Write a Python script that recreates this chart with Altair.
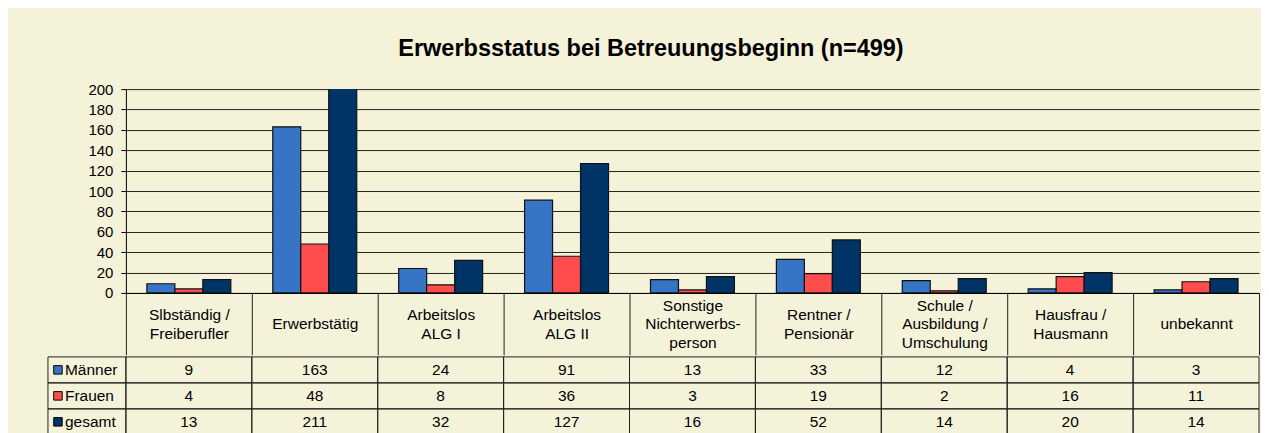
import altair as alt
import pandas as pd

FONT = "Liberation Sans"

categories = [
    "Slbständig /\nFreiberufler",
    "Erwerbstätig",
    "Arbeitslos\nALG I",
    "Arbeitslos\nALG II",
    "Sonstige\nNichterwerbs-\nperson",
    "Rentner /\nPensionär",
    "Schule /\nAusbildung /\nUmschulung",
    "Hausfrau /\nHausmann",
    "unbekannt",
]
series = ["Männer", "Frauen", "gesamt"]
maenner = [9, 163, 24, 91, 13, 33, 12, 4, 3]
frauen = [4, 48, 8, 36, 3, 19, 2, 16, 11]
gesamt = [13, 211, 32, 127, 16, 52, 14, 20, 14]
colors = ["#3674C6", "#FF4D4D", "#003366"]
y_ticks = [0, 20, 40, 60, 80, 100, 120, 140, 160, 180, 200]
title_text = "Erwerbsstatus bei Betreuungsbeginn (n=499)"

rows = []
for s, vals in zip(series, [maenner, frauen, gesamt]):
    for c, v in zip(categories, vals):
        rows.append({"category": c, "series": s, "value": v})
df = pd.DataFrame(rows)
labels_df = pd.DataFrame({"series": series})

W = 1134

# multi-line category labels, vertically centred in the 62px label row
L = "split(datum.label, '\\n')"
label_pad = {
    "condition": [
        {"test": f"length({L}) == 3", "value": -49.5},
        {"test": f"length({L}) == 2", "value": -40.25},
    ],
    "value": -31,
}

color_enc = alt.Color("series:N", sort=series,
                      scale=alt.Scale(domain=series, range=colors), legend=None)

bars = alt.Chart(df).mark_bar(clip=True, stroke="#111", strokeWidth=1.2).encode(
    x=alt.X("category:N", sort=categories,
            scale=alt.Scale(paddingInner=0, paddingOuter=0),
            axis=alt.Axis(title=None, labelExpr=L,
                          tickBand="extent", tickSize=62, tickColor="#222", tickWidth=1,
                          domainColor="#000", labelPadding=label_pad, labelBaseline="middle",
                          labelFontSize=15.5, labelLineHeight=18.5, labelColor="#000",
                          labelFont=FONT, labelAngle=0)),
    y=alt.Y("value:Q", scale=alt.Scale(domain=[0, 200], nice=False, zero=True),
            axis=alt.Axis(title=None, values=y_ticks, grid=True, gridColor="#222",
                          gridWidth=1, tickColor="#000", tickSize=5, domainColor="#000",
                          labelFontSize=15, labelPadding=8, labelFont=FONT,
                          labelColor="#000", minExtent=78, maxExtent=78)),
    xOffset=alt.XOffset("series:N", sort=series,
                        scale=alt.Scale(paddingInner=0, paddingOuter=0.75)),
    color=color_enc,
).properties(
    width=W, height=204,
    title=alt.TitleParams(title_text, fontSize=23.5, font=FONT, fontWeight="bold",
                          color="#000", anchor="middle", frame="group", dx=-41.5, offset=22),
)

table_base = alt.Chart(df).encode(
    x=alt.X("category:N", sort=categories,
            scale=alt.Scale(paddingInner=0, paddingOuter=0), axis=None),
    y=alt.Y("series:N", sort=series,
            scale=alt.Scale(paddingInner=0, paddingOuter=0), axis=None),
)
cells = table_base.mark_rect(fillOpacity=0, stroke="#222", strokeWidth=1)
texts = table_base.mark_text(fontSize=15.5, font=FONT, color="#000",
                             baseline="middle").encode(text="value:Q")

# row header column (legend keys + series names) left of the table
lab_base = alt.Chart(labels_df).encode(
    y=alt.Y("series:N", sort=series,
            scale=alt.Scale(paddingInner=0, paddingOuter=0), axis=None),
)
lab_cells = lab_base.mark_rect(fillOpacity=0, stroke="#222", strokeWidth=1).encode(
    x=alt.value(-78), x2=alt.value(0))
lab_sq = lab_base.mark_square(size=72, stroke="#000", strokeWidth=1, opacity=1,
                              filled=True).encode(x=alt.value(-68), color=color_enc)
lab_txt = lab_base.mark_text(align="left", baseline="middle", fontSize=15.5,
                             font=FONT, color="#000").encode(
    x=alt.value(-61), text="series:N")

value_table = alt.layer(cells, texts, lab_cells, lab_sq, lab_txt).properties(
    width=W, height=78)

chart = alt.vconcat(bars, value_table, spacing=0).properties(
    background="#F5F2DA",
    padding={"left": 39, "top": 28, "right": 1, "bottom": 0},
).configure(font=FONT).configure_view(strokeWidth=0)

chart.save("out.html", embed_options={"renderer": "svg", "actions": False})
